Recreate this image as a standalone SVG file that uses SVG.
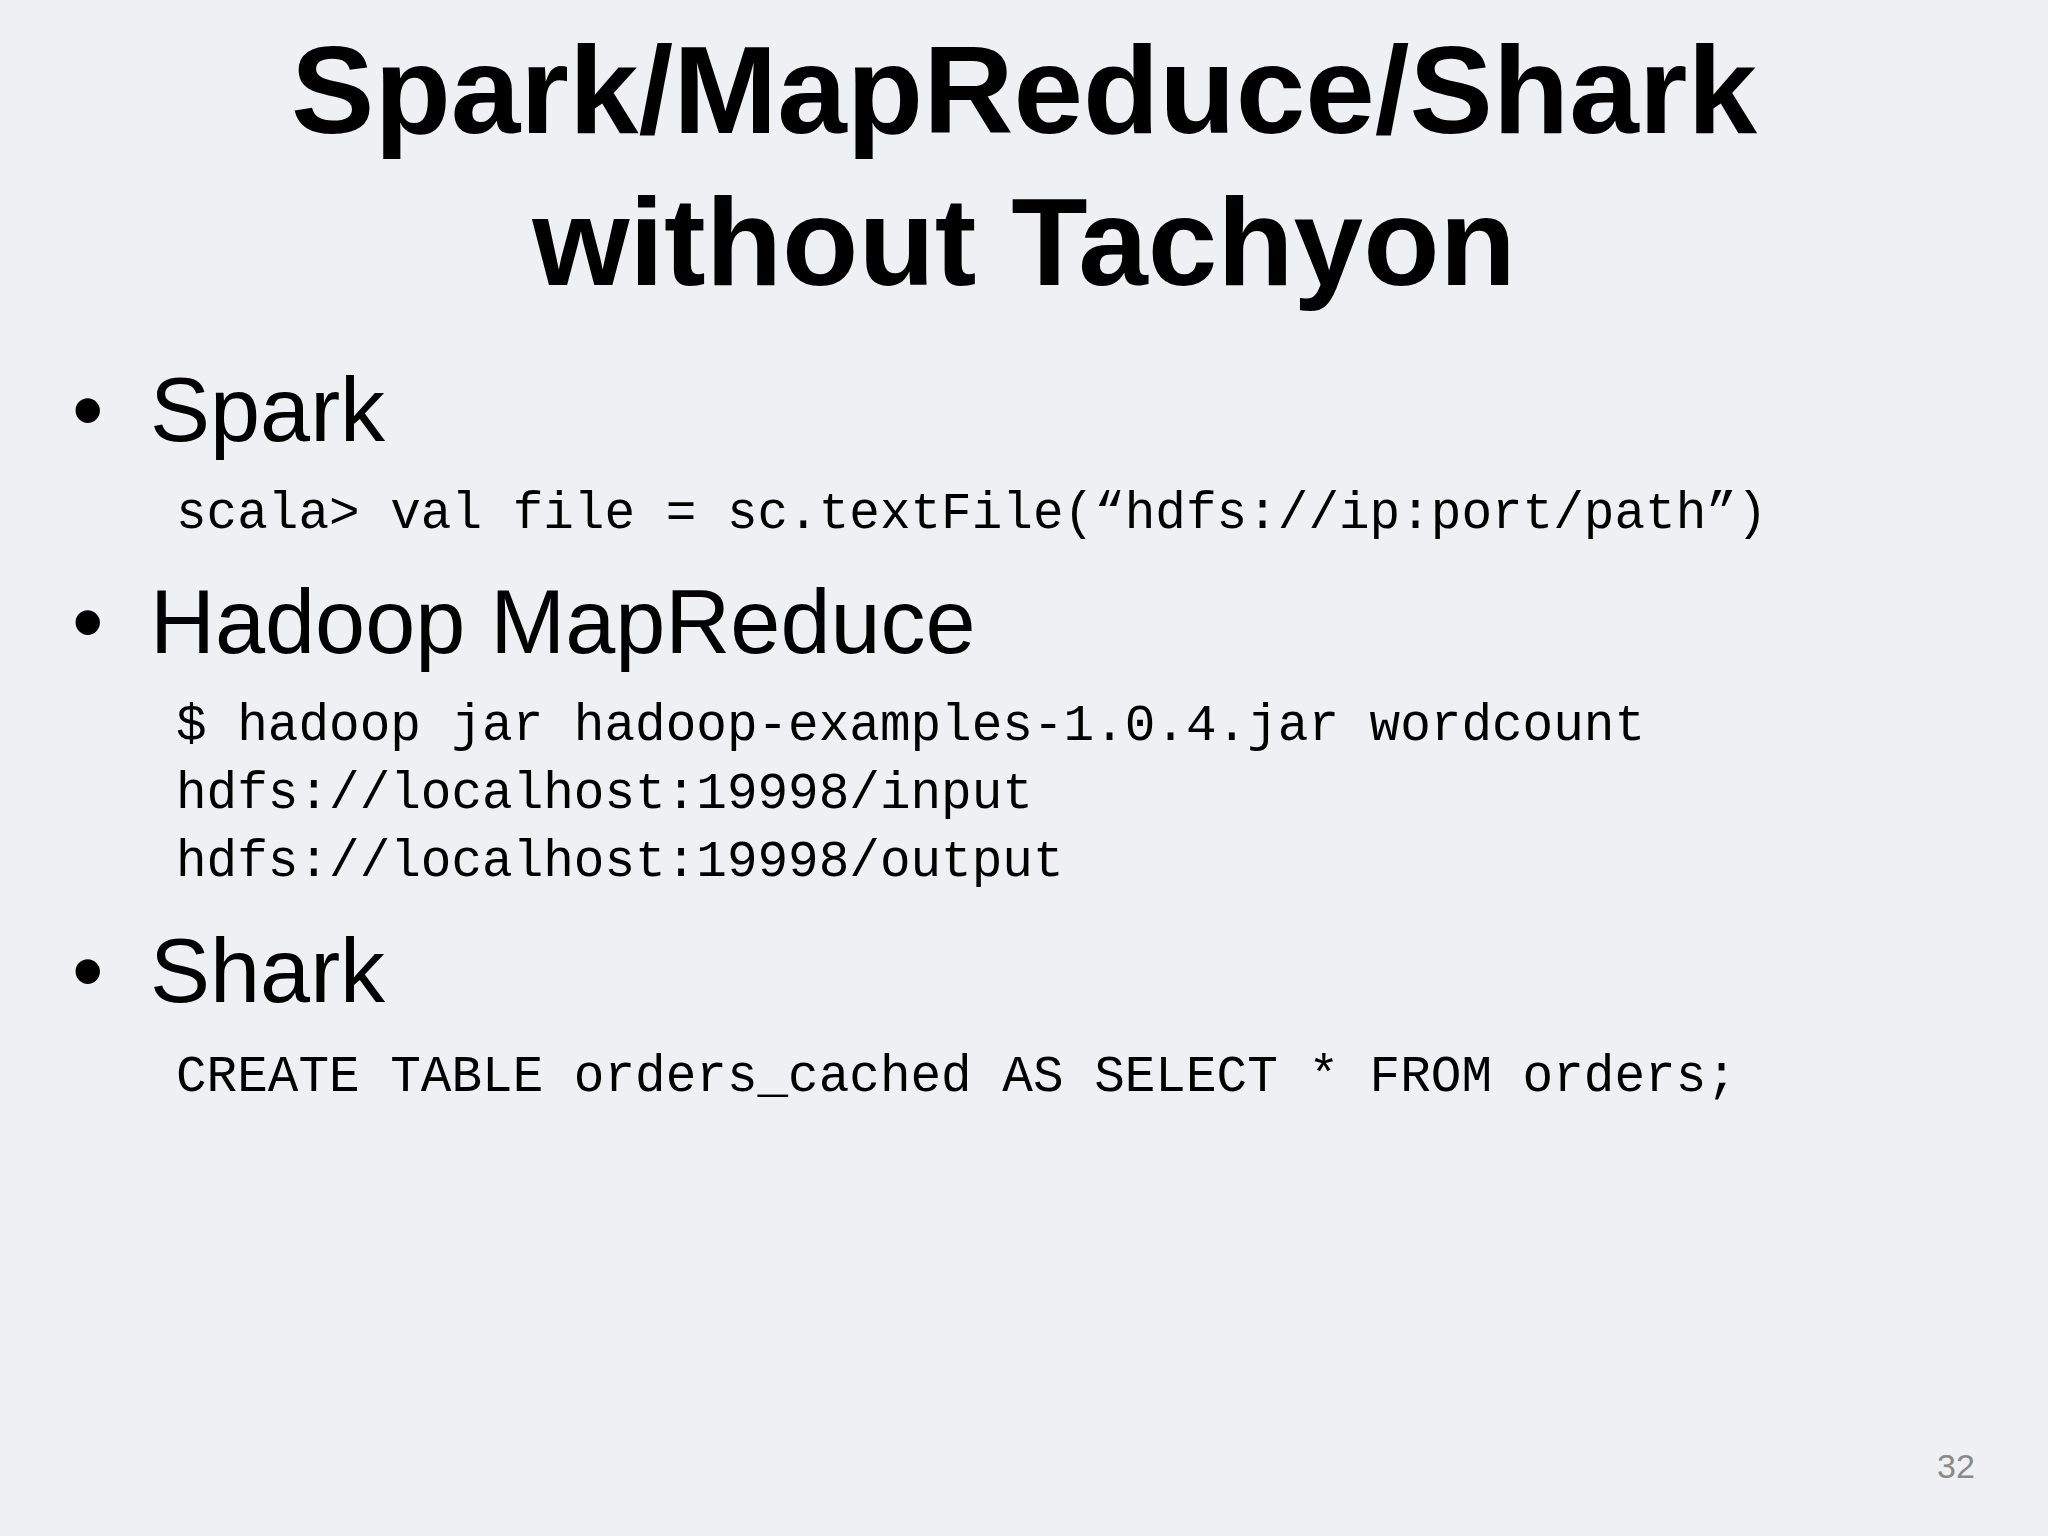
<svg xmlns="http://www.w3.org/2000/svg" width="2048" height="1536" viewBox="0 0 2048 1536">
<style>
.t{font-family:"Liberation Sans",Arial,sans-serif;font-weight:bold;font-size:125px;fill:#000;text-anchor:middle}
.b{font-family:"Liberation Sans",Arial,sans-serif;font-size:90px;fill:#000}
.c{font-family:"Liberation Mono","DejaVu Sans Mono",monospace;font-size:51px;fill:#000}
</style>
<rect width="2048" height="1536" fill="#eef0f4"/>
<g id="title">
<text class="t" x="1024" y="133">Spark/MapReduce/Shark</text>
<text class="t" x="1024" y="285">without Tachyon</text>
</g>
<g id="spark">
<text class="b" x="72" y="441">•</text>
<text class="b" x="150" y="441">Spark</text>
<text class="c" x="176" y="528">scala&gt; val file = sc.textFile(“hdfs://ip:port/path”)</text>
</g>
<g id="hadoop">
<text class="b" x="72" y="653">•</text>
<text class="b" x="150" y="653">Hadoop MapReduce</text>
<text class="c" x="176" y="740">$ hadoop jar hadoop-examples-1.0.4.jar wordcount</text>
<text class="c" x="176" y="808">hdfs://localhost:19998/input</text>
<text class="c" x="176" y="876">hdfs://localhost:19998/output</text>
</g>
<g id="shark">
<text class="b" x="72" y="1002">•</text>
<text class="b" x="150" y="1002">Shark</text>
<text class="c" x="176" y="1091">CREATE TABLE orders_cached AS SELECT * FROM orders;</text>
</g>
<text x="1937" y="1478" font-family="Liberation Sans,Arial,sans-serif" font-size="34" fill="#8a8a8a">32</text>
</svg>
